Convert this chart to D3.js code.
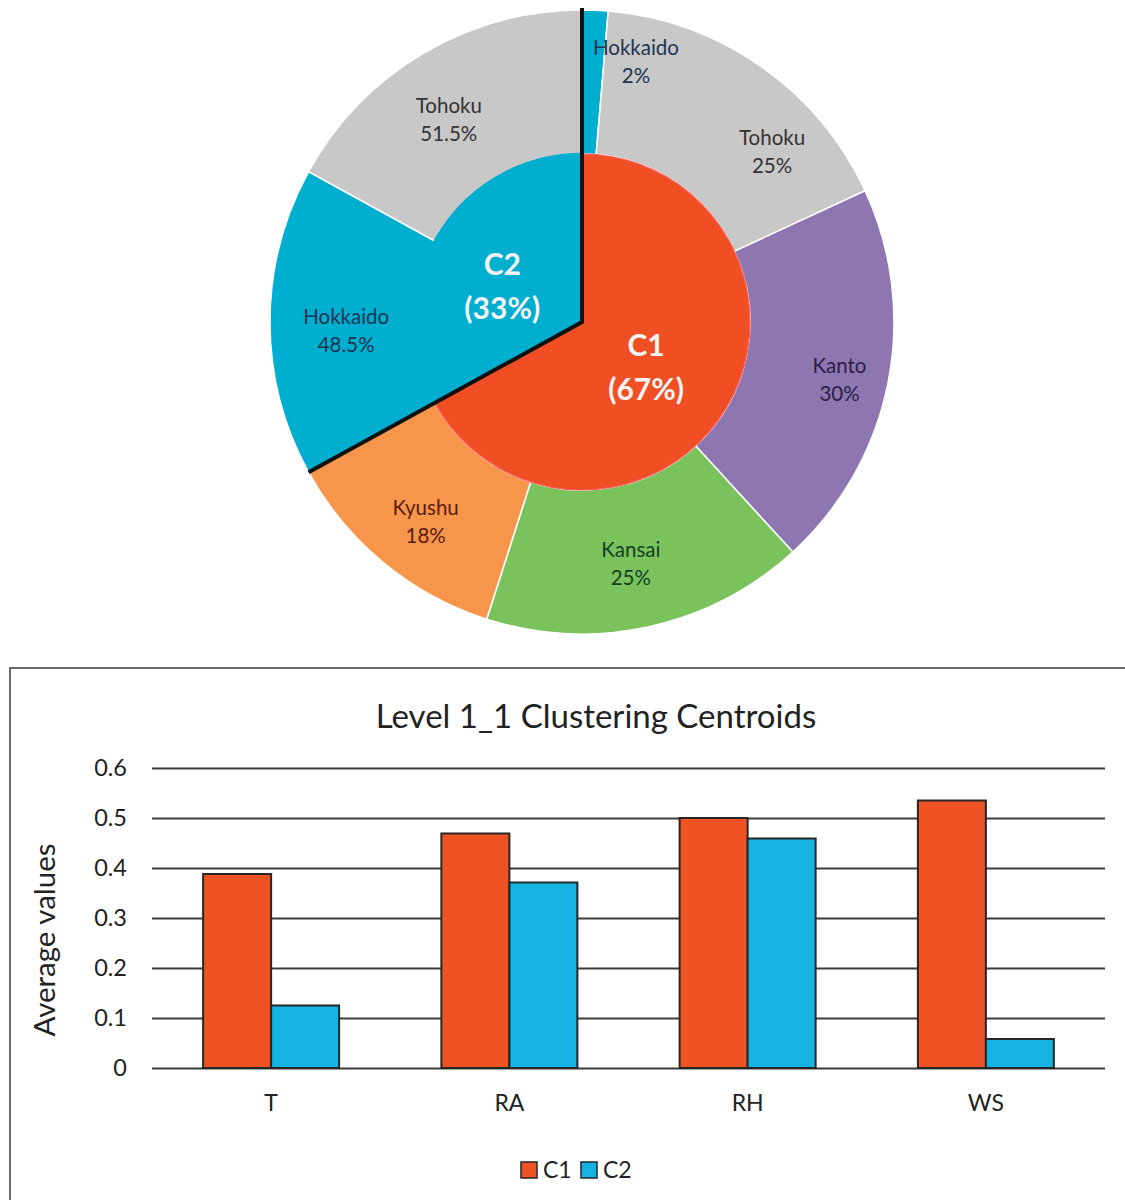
<!DOCTYPE html>
<html>
<head>
<meta charset="utf-8">
<script src="https://cdn.jsdelivr.net/npm/d3@7"></script>
<style>
  html, body { margin: 0; padding: 0; background: #fff; }
  svg { display: block; font-family: Lato, "Open Sans", sans-serif; }
</style>
</head>
<body>
<svg id="chart" width="1125" height="1200"></svg>
<script>
// ---- Cluster shares (inner ring) ----
const clusters = ["C1", "C2"];
const clusterShare = [67, 33];

// ---- Region shares inside each cluster (outer ring) ----
const c1Regions = ["Hokkaido", "Tohoku", "Kanto", "Kansai", "Kyushu"];
const c1Share = [2, 25, 30, 25, 18];
const c2Regions = ["Hokkaido", "Tohoku"];
const c2Share = [48.5, 51.5];

// ---- Centroid bar chart ----
const features = ["T", "RA", "RH", "WS"];
const c1Centroid = [0.388, 0.469, 0.500, 0.535];
const c2Centroid = [0.125, 0.371, 0.459, 0.058];
const yTicks = [0, 0.1, 0.2, 0.3, 0.4, 0.5, 0.6];

const svg = d3.select("#chart");

// ================= Sunburst =================
const cx = 582, cy = 322, rIn = 168, rOut = 312;
const regionColor = {
  Hokkaido: "#00aed0", Tohoku: "#c8c8c8", Kanto: "#8e76b1",
  Kansai: "#7ac35c", Kyushu: "#f7964b"
};
const regionText = {
  Hokkaido: "#1d3550", Tohoku: "#333333", Kanto: "#2b1d44",
  Kansai: "#143f22", Kyushu: "#5a1c12"
};
const clusterColor = { C1: "#f04e23", C2: "#00aed0" };

const g = svg.append("g").attr("transform", `translate(${cx},${cy})`);

const innerPie = d3.pie().sort(null).value(d => d.v);
const innerArcs = innerPie(clusters.map((c, i) => ({ name: c, v: clusterShare[i] })));

const outerArcs = [];
innerArcs.forEach(a => {
  const names = a.data.name === "C1" ? c1Regions : c2Regions;
  const vals = a.data.name === "C1" ? c1Share : c2Share;
  d3.pie().sort(null).value(d => d.v).startAngle(a.startAngle).endAngle(a.endAngle)(
    names.map((n, i) => ({ name: n, v: vals[i], cluster: a.data.name }))
  ).forEach(s => outerArcs.push(s));
});

const arcOuter = d3.arc().innerRadius(rIn).outerRadius(rOut);
const arcInner = d3.arc().innerRadius(0).outerRadius(rIn);

g.selectAll("path.outer").data(outerArcs).join("path")
  .attr("class", "outer")
  .attr("d", arcOuter)
  .attr("fill", d => regionColor[d.data.name])
  .attr("stroke", "#fff")
  .attr("stroke-width", 1.5);

g.selectAll("path.inner").data(innerArcs).join("path")
  .attr("class", "inner")
  .attr("d", arcInner)
  .attr("fill", d => clusterColor[d.data.name])
  .attr("stroke", d => d.data.name === "C1" ? "#ff5a5a" : clusterColor.C2)
  .attr("stroke-width", d => d.data.name === "C1" ? 1.2 : 2.5);

// Black outline along the C2 wedge edges
const c2 = innerArcs[1];
const polar = (ang, r) => [r * Math.sin(ang), -r * Math.cos(ang)];
const pA = polar(c2.startAngle, rOut), pB = polar(c2.endAngle, rOut + 2);
g.append("path")
  .attr("d", `M${pA[0]},${pA[1]} L0,0 L${pB[0]},${pB[1]}`)
  .attr("fill", "none")
  .attr("stroke", "#111")
  .attr("stroke-width", 4)
  .attr("stroke-linejoin", "miter");

// Label placement (degrees clockwise from 12 o'clock, radius)
const outerLabelPos = {
  "C1-Hokkaido": [11.7, 266], "C1-Tohoku": [48.2, 255], "C1-Kanto": [102.7, 264],
  "C1-Kansai": [168.6, 247], "C1-Kyushu": [218, 254],
  "C2-Hokkaido": [267.8, 236], "C2-Tohoku": [326.6, 242]
};
const innerLabelPos = { C1: [125.7, 79], C2: [293.6, 87] };

const fmt = v => (Number.isInteger(v) ? v : v.toFixed(1)) + "%";

outerArcs.forEach(a => {
  const [deg, r] = outerLabelPos[a.data.cluster + "-" + a.data.name];
  const [x, y] = polar(deg * Math.PI / 180, r);
  const t = g.append("text")
    .attr("text-anchor", "middle")
    .attr("font-size", 20.5)
    .attr("fill", regionText[a.data.name]);
  t.append("tspan").attr("x", x).attr("y", y - 7).text(a.data.name);
  t.append("tspan").attr("x", x).attr("y", y + 21).text(fmt(a.data.v));
});

innerArcs.forEach(a => {
  const [deg, r] = innerLabelPos[a.data.name];
  const [x, y] = polar(deg * Math.PI / 180, r);
  const t = g.append("text")
    .attr("text-anchor", "middle")
    .attr("font-size", 30)
    .attr("font-weight", "bold")
    .attr("fill", "#f4f4f4");
  t.append("tspan").attr("x", x).attr("y", y - 12).text(a.data.name);
  t.append("tspan").attr("x", x).attr("y", y + 32).text(`(${a.data.v}%)`);
});

// ================= Bar chart =================
svg.append("rect")
  .attr("x", 10).attr("y", 668)
  .attr("width", 1130).attr("height", 545)
  .attr("fill", "#fff")
  .attr("stroke", "#3a3a3a")
  .attr("stroke-width", 1.5);

const plot = { left: 152, right: 1105, top: 768, bottom: 1068 };

const y = d3.scaleLinear().domain([0, 0.6]).range([plot.bottom, plot.top]);
const x0 = d3.scaleBand().domain(features).range([plot.left, plot.right]).padding(0);
const gap = x0.bandwidth() * 0.2146;
const series = ["C1", "C2"];
const x1 = d3.scaleBand().domain(series).range([gap, x0.bandwidth() - gap]).padding(0);
const barColor = { C1: "#f05323", C2: "#15b3e2" };

svg.append("text")
  .attr("x", 596).attr("y", 728)
  .attr("text-anchor", "middle")
  .attr("font-size", 33)
  .attr("fill", "#222")
  .text("Level 1_1 Clustering Centroids");

// gridlines + y tick labels via axis
const yAxis = d3.axisLeft(y).tickValues(yTicks)
  .tickSize(-(plot.right - plot.left))
  .tickPadding(25)
  .tickFormat(d => d === 0 ? "0" : d3.format(".1f")(d));
const ya = svg.append("g").attr("transform", `translate(${plot.left},0)`).call(yAxis);
ya.select(".domain").remove();
ya.selectAll(".tick line").attr("stroke", "#3c3c3c").attr("stroke-width", 2);
ya.selectAll(".tick text").attr("font-size", 23.5).attr("fill", "#222")
  .attr("font-family", "Lato, 'Open Sans', sans-serif");

const rows = features.map((f, i) => ({ f, C1: c1Centroid[i], C2: c2Centroid[i] }));

const groups = svg.selectAll("g.grp").data(rows).join("g")
  .attr("class", "grp")
  .attr("transform", d => `translate(${x0(d.f)},0)`);

groups.selectAll("rect").data(d => series.map(s => ({ s, v: d[s] }))).join("rect")
  .attr("x", d => x1(d.s))
  .attr("y", d => y(d.v))
  .attr("width", x1.bandwidth())
  .attr("height", d => y(0) - y(d.v))
  .attr("fill", d => barColor[d.s])
  .attr("stroke", "#262626")
  .attr("stroke-width", 2);

// x axis labels
const xAxis = d3.axisBottom(x0).tickSize(0).tickPadding(27);
const xa = svg.append("g").attr("transform", `translate(0,${plot.bottom})`).call(xAxis);
xa.select(".domain").remove();
xa.selectAll(".tick text").attr("font-size", 23).attr("fill", "#222")
  .attr("font-family", "Lato, 'Open Sans', sans-serif");

// y axis title
svg.append("text")
  .attr("transform", "translate(55,940) rotate(-90)")
  .attr("text-anchor", "middle")
  .attr("font-size", 29.5)
  .attr("fill", "#222")
  .text("Average values");

// legend
const legend = svg.append("g").attr("transform", "translate(521,1162)");
series.forEach((s, i) => {
  const lg = legend.append("g").attr("transform", `translate(${i * 60},0)`);
  lg.append("rect").attr("width", 16).attr("height", 16)
    .attr("fill", barColor[s]).attr("stroke", "#262626").attr("stroke-width", 1.5);
  lg.append("text").attr("x", 22).attr("y", 16)
    .attr("font-size", 23).attr("fill", "#222").text(s);
});
</script>
</body>
</html>
